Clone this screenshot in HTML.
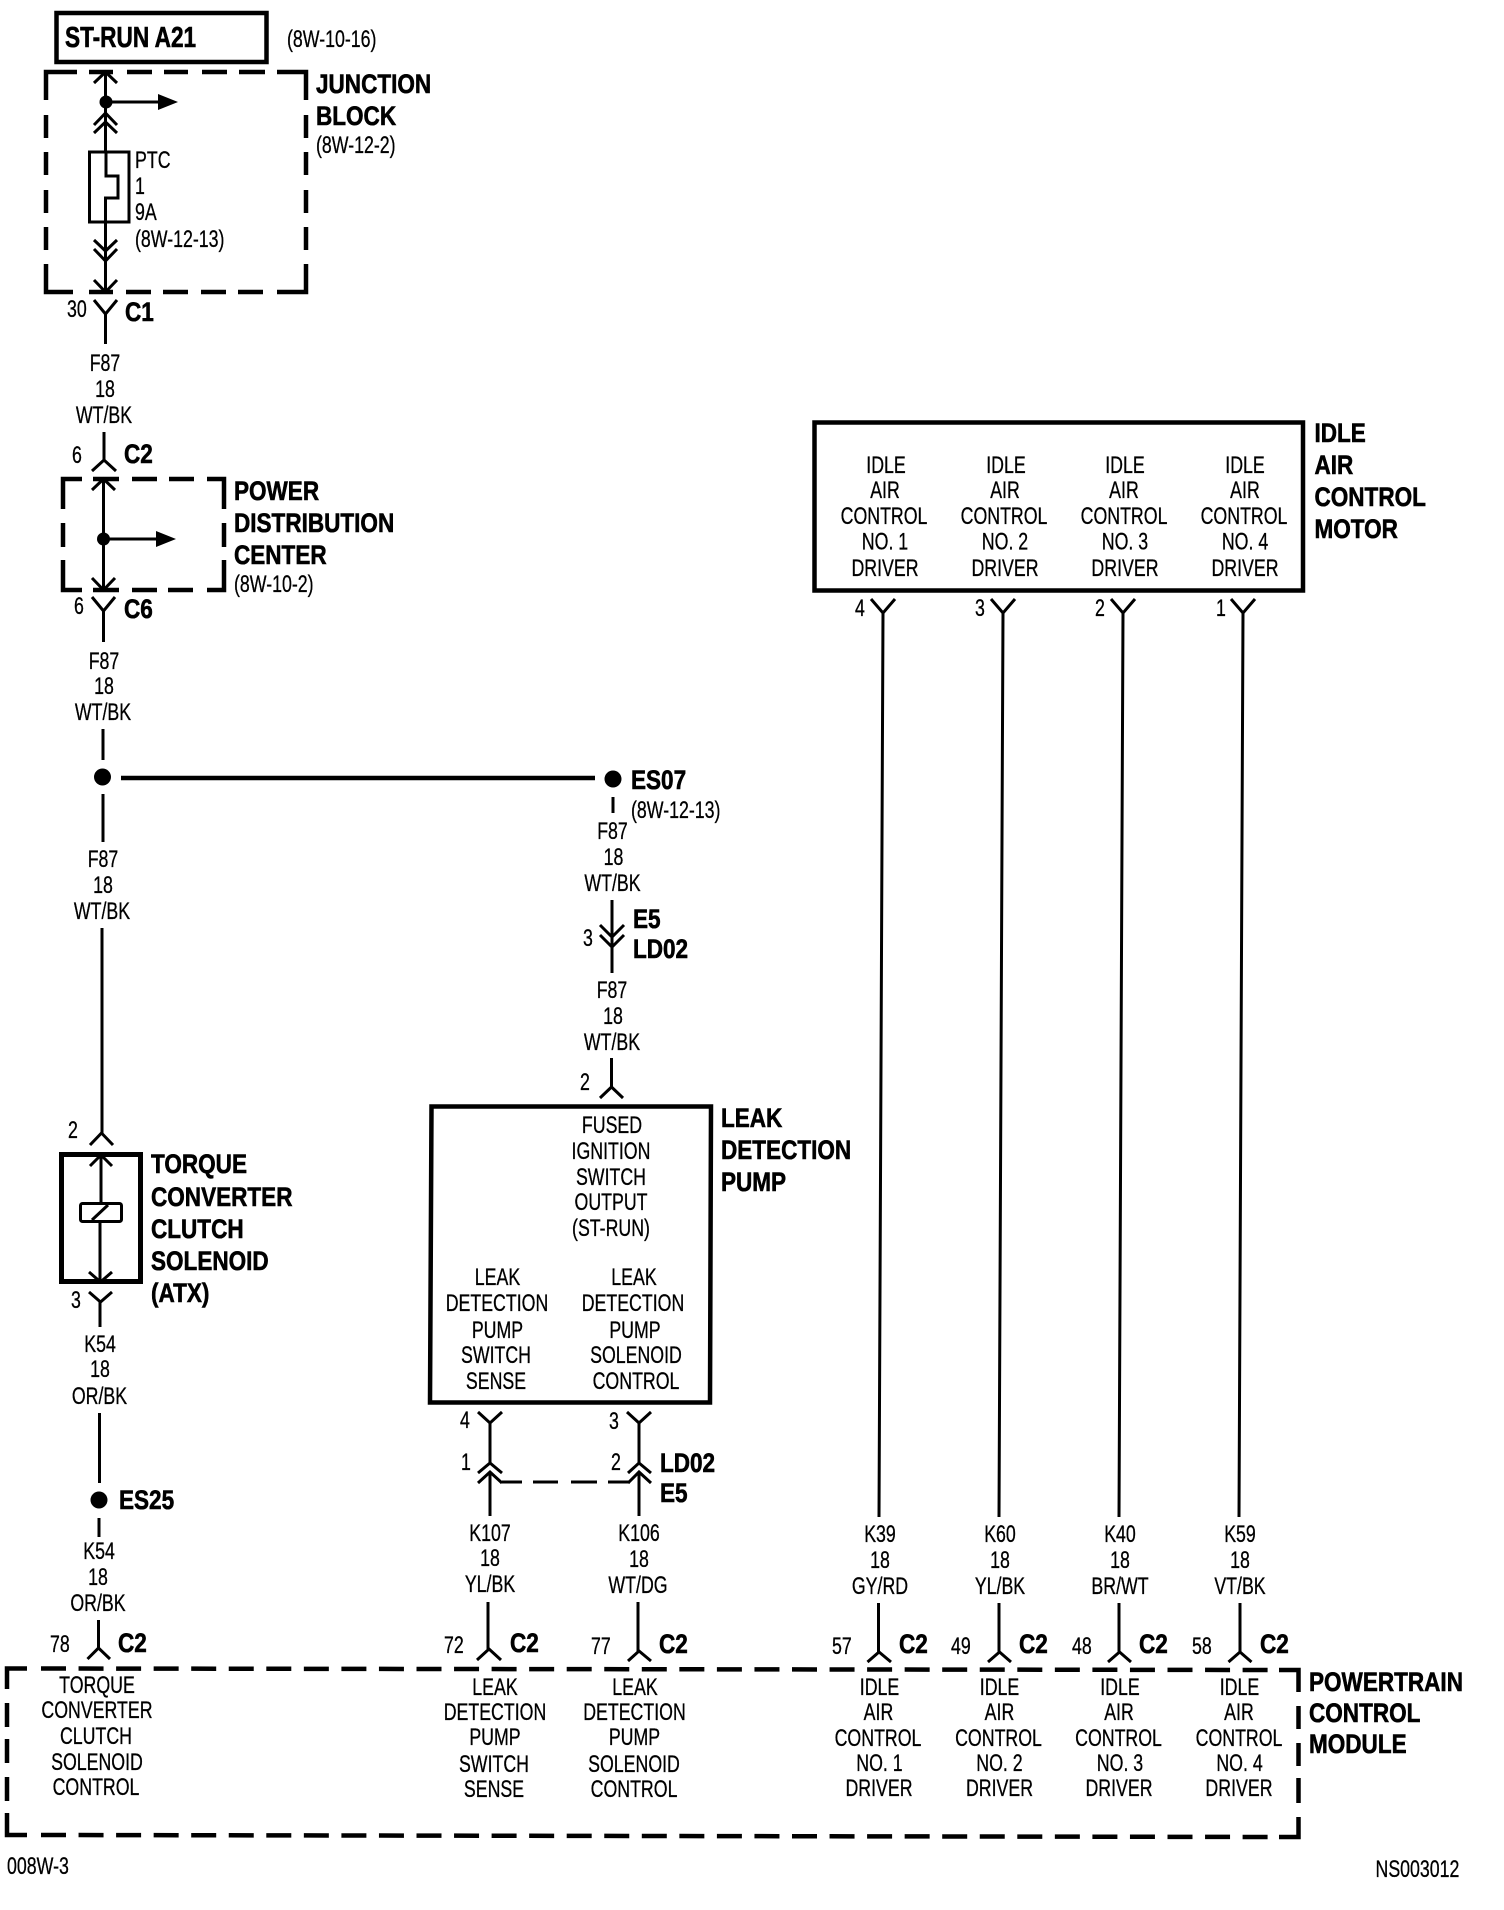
<!DOCTYPE html>
<html>
<head>
<meta charset="utf-8">
<title>Wiring diagram</title>
<style>
html,body{margin:0;padding:0;background:#fff}
svg{display:block}
text{fill:#000;font-family:"Liberation Sans",sans-serif}
.c,.l{font-size:24px;transform-box:fill-box;transform:scaleX(.74);stroke:#000;stroke-width:.3px}
.c{text-anchor:middle;transform-origin:center}
.l{text-anchor:start;transform-origin:left center}
.b{font-size:27px;font-weight:bold;text-anchor:start;transform-box:fill-box;transform-origin:left center;transform:scaleX(.835);stroke:#000;stroke-width:.6px}
.s{font-size:29px;font-weight:bold;text-anchor:start;transform-box:fill-box;transform-origin:left center;transform:scaleX(.78);stroke:#000;stroke-width:.6px}
.w{fill:none;stroke:#000;stroke-width:3}
.h{fill:none;stroke:#000;stroke-width:4.5}
</style>
</head>
<body>
<svg width="1504" height="1910" viewBox="0 0 1504 1910" xmlns="http://www.w3.org/2000/svg">
<rect width="1504" height="1910" fill="#fff"/>

<!-- ST-RUN -->
<rect x="56.5" y="13" width="210" height="49" class="h"/>
<text x="65" y="47" class="s">ST-RUN A21</text>
<text x="287" y="47" class="l">(8W-10-16)</text>

<!-- Junction block -->
<path class="h" d="M77 72H46V100M46 115V138M46 152V175M46 190V213M46 227V250M46 264V292H73M89 292H113M126 292H151M163 292H188M201 292H226M238 292H263M277 292H306V264M306 250V227M306 213V190M306 175V152M306 138V115M306 100V72H277M265 72H239M227 72H202M188 72H164M152 72H127M113 72H89"/>
<path class="w" d="M105.500 72V152M94 83L105.500 72L117 83M94 125L105.500 113L117 125M94 133L105.500 122L117 133"/>
<circle cx="106" cy="102" r="6.500"/>
<path class="w" d="M106 102H160"/>
<path d="M158 94L178 102L158 110Z"/>
<path class="w" d="M89.500 152H129V222H89.500ZM106 152V176H118V198H105.500V290"/>
<path class="w" d="M94 240L105.500 251L117 240M94 249L105.500 261L117 249M94 280L105.500 292L117 280M94 300L105.500 314L117 300M105.500 314V344"/>
<text x="135" y="168" class="l">PTC</text>
<text x="135" y="194" class="l">1</text>
<text x="135" y="220" class="l">9A</text>
<text x="135" y="247" class="l">(8W-12-13)</text>
<text x="316" y="93" class="b">JUNCTION</text>
<text x="316" y="125" class="b">BLOCK</text>
<text x="316" y="153" class="l">(8W-12-2)</text>
<text x="67" y="317" class="l">30</text>
<text x="125" y="321" class="b">C1</text>
<text x="105" y="371" class="c">F87</text>
<text x="105" y="397" class="c">18</text>
<text x="104" y="423" class="c">WT/BK</text>

<!-- C2 / PDC -->
<path class="w" d="M104 432V460M92 471L104 460L116 471"/>
<text x="72" y="463" class="l">6</text>
<text x="124" y="463" class="b">C2</text>
<path class="h" d="M82 479H63V509M63 523V547M63 560V590H82M93 590H119M132 590H157M168 590H193M207 590H224V560M224 547V523M224 509V479H207M194 479H169M157 479H132M119 479H93"/>
<path class="w" d="M103.500 479V590M92 490L103.500 479L115 490M92 578L103.500 590L115 578"/>
<circle cx="103.500" cy="539" r="6.500"/>
<path class="w" d="M104 539H158"/>
<path d="M156 531L176 539L156 547Z"/>
<text x="234" y="500" class="b">POWER</text>
<text x="234" y="532" class="b">DISTRIBUTION</text>
<text x="234" y="564" class="b">CENTER</text>
<text x="234" y="592" class="l">(8W-10-2)</text>
<path class="w" d="M92 597L103.500 611L115 597M103.500 611V642"/>
<text x="74" y="614" class="l">6</text>
<text x="124" y="618" class="b">C6</text>
<text x="104" y="669" class="c">F87</text>
<text x="104" y="694" class="c">18</text>
<text x="103" y="720" class="c">WT/BK</text>
<path class="w" d="M103 729V760"/>
<circle cx="102.500" cy="777" r="8.500"/>
<path class="h" d="M121 778H595"/>
<circle cx="613" cy="779" r="8.500"/>
<path class="w" d="M103 794V842M102 928V1133M90 1145L101.500 1133L113 1145"/>
<text x="103" y="867" class="c">F87</text>
<text x="103" y="893" class="c">18</text>
<text x="102" y="919" class="c">WT/BK</text>

<!-- Torque converter -->
<text x="68" y="1138" class="l">2</text>
<rect x="61.500" y="1154.500" width="79" height="127" fill="none" stroke="#000" stroke-width="5"/>
<path class="w" d="M90 1166L101 1155L112 1166M101 1155V1203M100 1222V1282M89 1272L100.500 1282L112 1272"/>
<rect x="80.500" y="1203.500" width="41" height="18" rx="2" fill="none" stroke="#000" stroke-width="3"/>
<path class="w" d="M92 1220L108 1205"/>
<text x="151" y="1173" class="b">TORQUE</text>
<text x="151" y="1206" class="b">CONVERTER</text>
<text x="151" y="1238" class="b">CLUTCH</text>
<text x="151" y="1270" class="b">SOLENOID</text>
<text x="151" y="1302" class="b">(ATX)</text>
<text x="71" y="1308" class="l">3</text>
<path class="w" d="M89 1292L100.500 1302L112 1292M100 1302V1327"/>
<text x="100" y="1352" class="c">K54</text>
<text x="100" y="1377" class="c">18</text>
<text x="99.500" y="1404" class="c">OR/BK</text>
<path class="w" d="M99.500 1413V1483"/>
<circle cx="99" cy="1500" r="8.500"/>
<text x="119" y="1509" class="b">ES25</text>
<path class="w" d="M99 1518V1537"/>
<text x="99" y="1559" class="c">K54</text>
<text x="98" y="1585" class="c">18</text>
<text x="98" y="1611" class="c">OR/BK</text>
<path class="w" d="M98.500 1620V1648M87.500 1659L98.500 1648L110 1659"/>
<text x="50" y="1652" class="l">78</text>
<text x="118" y="1652" class="b">C2</text>

<!-- ES07 branch -->
<text x="631" y="789" class="b">ES07</text>
<path class="w" d="M613 797V813"/>
<text x="631" y="818" class="l">(8W-12-13)</text>
<text x="612.500" y="839" class="c">F87</text>
<text x="613.500" y="865" class="c">18</text>
<text x="612.500" y="891" class="c">WT/BK</text>
<path class="w" d="M612 900V947M600 925L612 937L624 925M600 935L612 947L624 935M612 947V973"/>
<text x="583" y="946" class="l">3</text>
<text x="633" y="928" class="b">E5</text>
<text x="633" y="958" class="b">LD02</text>
<text x="612" y="998" class="c">F87</text>
<text x="613" y="1024" class="c">18</text>
<text x="612" y="1050" class="c">WT/BK</text>
<path class="w" d="M611.500 1058V1087M600 1098L611.500 1087L623 1098"/>
<text x="580" y="1090" class="l">2</text>

<!-- Leak detection pump -->
<path class="h" d="M431.500 1106.500H711L710 1402.500H430Z"/>
<text x="612" y="1133" class="c">FUSED</text>
<text x="611" y="1159" class="c">IGNITION</text>
<text x="611" y="1185" class="c">SWITCH</text>
<text x="611" y="1210" class="c">OUTPUT</text>
<text x="611" y="1236" class="c">(ST-RUN)</text>
<text x="497.500" y="1285" class="c">LEAK</text>
<text x="497" y="1311" class="c">DETECTION</text>
<text x="497.500" y="1338" class="c">PUMP</text>
<text x="496" y="1363" class="c">SWITCH</text>
<text x="496" y="1389" class="c">SENSE</text>
<text x="634" y="1285" class="c">LEAK</text>
<text x="633" y="1311" class="c">DETECTION</text>
<text x="635" y="1338" class="c">PUMP</text>
<text x="636" y="1363" class="c">SOLENOID</text>
<text x="636" y="1389" class="c">CONTROL</text>
<text x="721" y="1127" class="b">LEAK</text>
<text x="721" y="1159" class="b">DETECTION</text>
<text x="721" y="1191" class="b">PUMP</text>
<text x="460" y="1428" class="l">4</text>
<text x="609" y="1429" class="l">3</text>
<path class="w" d="M478 1412L490 1423L502 1412M490 1423V1463M478 1473L490 1463L502 1473M478 1483L490 1472L502 1483M490 1472V1516"/>
<path class="w" d="M627 1412L639 1423L651 1412M639 1423V1463M628 1473L639 1463L651 1473M628 1483L639 1472L651 1483M639 1472V1516"/>
<path class="w" d="M502 1482H522M533 1482H558M571 1482H597M608 1482H630"/>
<text x="461" y="1470" class="l">1</text>
<text x="611" y="1470" class="l">2</text>
<text x="660" y="1472" class="b">LD02</text>
<text x="660" y="1502" class="b">E5</text>
<text x="490" y="1541" class="c">K107</text>
<text x="490" y="1566" class="c">18</text>
<text x="490" y="1592" class="c">YL/BK</text>
<text x="639" y="1541" class="c">K106</text>
<text x="639" y="1567" class="c">18</text>
<text x="638" y="1593" class="c">WT/DG</text>
<path class="w" d="M488 1602V1649M477 1660L489 1649L501 1660M638 1602V1651M628 1661L639 1651L651 1661"/>
<text x="444" y="1653" class="l">72</text>
<text x="510" y="1652" class="b">C2</text>
<text x="591" y="1654" class="l">77</text>
<text x="659" y="1653" class="b">C2</text>

<!-- Idle air control motor -->
<rect x="814.500" y="422.500" width="488.500" height="168" class="h"/>
<g>
<text x="886" y="473" class="c">IDLE</text><text x="885" y="498" class="c">AIR</text><text x="884" y="524" class="c">CONTROL</text><text x="885" y="549.500" class="c">NO. 1</text><text x="885" y="576" class="c">DRIVER</text>
<text x="1006" y="473" class="c">IDLE</text><text x="1005" y="498" class="c">AIR</text><text x="1004" y="524" class="c">CONTROL</text><text x="1005" y="549.500" class="c">NO. 2</text><text x="1005" y="576" class="c">DRIVER</text>
<text x="1125" y="473" class="c">IDLE</text><text x="1124" y="498" class="c">AIR</text><text x="1124" y="524" class="c">CONTROL</text><text x="1125" y="549.500" class="c">NO. 3</text><text x="1125" y="576" class="c">DRIVER</text>
<text x="1245" y="473" class="c">IDLE</text><text x="1245" y="498" class="c">AIR</text><text x="1244" y="524" class="c">CONTROL</text><text x="1245" y="549.500" class="c">NO. 4</text><text x="1245" y="576" class="c">DRIVER</text>
</g>
<text x="1314.500" y="442" class="b">IDLE</text>
<text x="1314.500" y="474" class="b">AIR</text>
<text x="1314.500" y="506" class="b">CONTROL</text>
<text x="1314.500" y="538" class="b">MOTOR</text>
<text x="855" y="616" class="l">4</text>
<text x="975" y="616" class="l">3</text>
<text x="1095" y="616" class="l">2</text>
<text x="1216" y="616" class="l">1</text>
<path class="w" d="M871 599L883 613L895 599M883 613L879 1517M991 599L1003 613L1015 599M1003 613L999 1517M1111 599L1123 613L1135 599M1123 613L1119 1517M1231 599L1243 613L1255 599M1243 613L1239 1517"/>
<text x="880" y="1542" class="c">K39</text><text x="880" y="1568" class="c">18</text><text x="880" y="1594" class="c">GY/RD</text>
<text x="1000" y="1542" class="c">K60</text><text x="1000" y="1568" class="c">18</text><text x="1000" y="1594" class="c">YL/BK</text>
<text x="1120" y="1542" class="c">K40</text><text x="1120" y="1568" class="c">18</text><text x="1120" y="1594" class="c">BR/WT</text>
<text x="1240" y="1542" class="c">K59</text><text x="1240" y="1568" class="c">18</text><text x="1240" y="1594" class="c">VT/BK</text>
<path class="w" d="M878.500 1603V1652M867.500 1662L879 1652L891 1662M999 1603V1652M988 1662L999.500 1652L1011 1662M1119 1603V1652M1108 1662L1119.500 1652L1131 1662M1240 1603V1652M1228.500 1662L1240 1652L1251.500 1662"/>
<text x="832" y="1654" class="l">57</text><text x="899" y="1653" class="b">C2</text>
<text x="951" y="1654" class="l">49</text><text x="1019" y="1653" class="b">C2</text>
<text x="1072" y="1654" class="l">48</text><text x="1139" y="1653" class="b">C2</text>
<text x="1192" y="1654" class="l">58</text><text x="1260" y="1653" class="b">C2</text>

<!-- PCM dashed -->
<path class="h" d="M27 1668.500H7V1689M7 1703V1727M7 1739V1763M7 1777V1801M7 1813V1835H27"/>
<path class="h" d="M41 1668.500L1279 1670" stroke-dasharray="25 12.550"/>
<path class="h" d="M41 1835L1279 1837" stroke-dasharray="25 12.550"/>
<path class="h" d="M1279 1670H1298.500V1692M1298.500 1706V1729M1298.500 1743V1766M1298.500 1778V1803M1298.500 1817V1837H1279"/>
<text x="97" y="1693" class="c">TORQUE</text>
<text x="97" y="1718" class="c">CONVERTER</text>
<text x="96" y="1744" class="c">CLUTCH</text>
<text x="97" y="1770" class="c">SOLENOID</text>
<text x="96" y="1795" class="c">CONTROL</text>
<text x="495" y="1695" class="c">LEAK</text>
<text x="495" y="1720" class="c">DETECTION</text>
<text x="495" y="1745" class="c">PUMP</text>
<text x="494" y="1772" class="c">SWITCH</text>
<text x="494" y="1797" class="c">SENSE</text>
<text x="635" y="1695" class="c">LEAK</text>
<text x="634.500" y="1720" class="c">DETECTION</text>
<text x="634.500" y="1745" class="c">PUMP</text>
<text x="634" y="1772" class="c">SOLENOID</text>
<text x="634" y="1797" class="c">CONTROL</text>
<text x="879.500" y="1695" class="c">IDLE</text><text x="878.500" y="1720" class="c">AIR</text><text x="878" y="1746" class="c">CONTROL</text><text x="879.500" y="1771" class="c">NO. 1</text><text x="879" y="1796" class="c">DRIVER</text>
<text x="999.500" y="1695" class="c">IDLE</text><text x="999.500" y="1720" class="c">AIR</text><text x="998.500" y="1746" class="c">CONTROL</text><text x="999.500" y="1771" class="c">NO. 2</text><text x="999.500" y="1796" class="c">DRIVER</text>
<text x="1120" y="1695" class="c">IDLE</text><text x="1119" y="1720" class="c">AIR</text><text x="1118.500" y="1746" class="c">CONTROL</text><text x="1120" y="1771" class="c">NO. 3</text><text x="1119" y="1796" class="c">DRIVER</text>
<text x="1239.500" y="1695" class="c">IDLE</text><text x="1239" y="1720" class="c">AIR</text><text x="1239" y="1746" class="c">CONTROL</text><text x="1239.500" y="1771" class="c">NO. 4</text><text x="1239" y="1796" class="c">DRIVER</text>
<text x="1309" y="1691" class="b">POWERTRAIN</text>
<text x="1309" y="1722" class="b">CONTROL</text>
<text x="1309" y="1753" class="b">MODULE</text>
<text x="7" y="1874" class="l">008W-3</text>
<text x="1375.500" y="1877" class="l">NS003012</text>
</svg>
</body>
</html>
